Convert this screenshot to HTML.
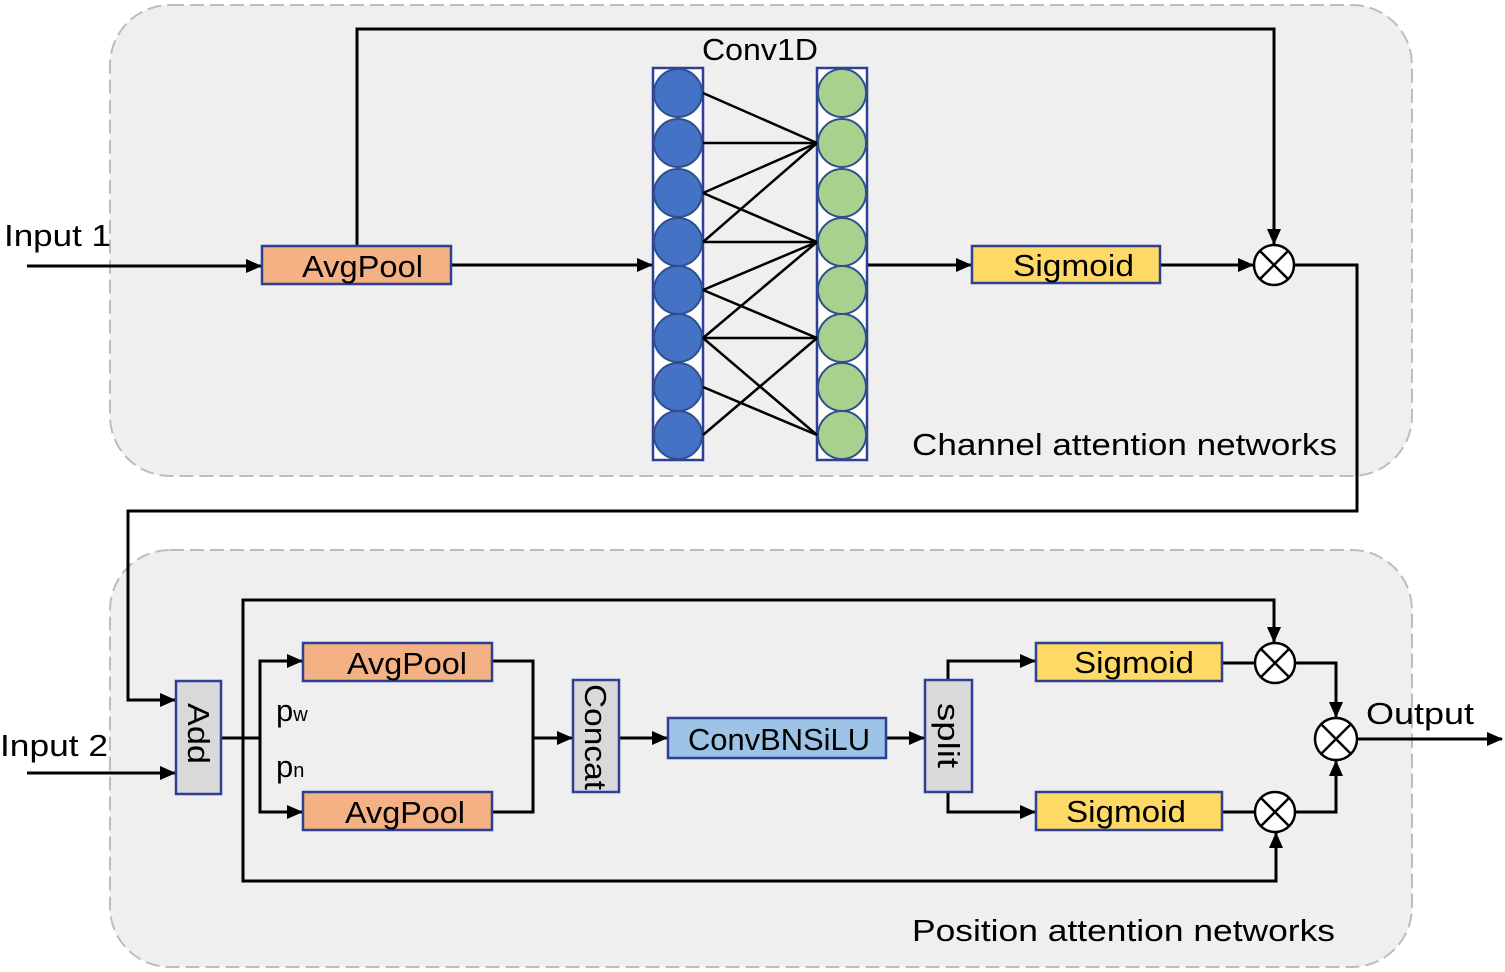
<!DOCTYPE html>
<html><head><meta charset="utf-8"><style>
html,body{margin:0;padding:0;background:#fff;}
svg{display:block;font-family:"Liberation Sans",sans-serif;}
</style></head><body>
<svg width="1505" height="972" viewBox="0 0 1505 972" xmlns="http://www.w3.org/2000/svg">
<defs>
<marker id="a" markerWidth="16" markerHeight="14" refX="15" refY="7" orient="auto" markerUnits="userSpaceOnUse" viewBox="0 0 16 14">
<path d="M0,0 L16,7 L0,14 z" fill="#000"/></marker>
</defs>
<rect x="110" y="5" width="1302" height="471" rx="60" fill="#efefef" stroke="#bdbdbd" stroke-width="2" stroke-dasharray="14,6"/>
<rect x="110" y="550" width="1302" height="417" rx="60" fill="#efefef" stroke="#bdbdbd" stroke-width="2" stroke-dasharray="14,6"/>
<g stroke="#000" stroke-width="3" fill="none">
<line x1="27" y1="266" x2="261" y2="266" marker-end="url(#a)"/>
<line x1="451" y1="265" x2="652" y2="265" marker-end="url(#a)"/>
<polyline points="357,246 357,29 1274,29 1274,244" marker-end="url(#a)"/>
<line x1="867" y1="265" x2="971" y2="265" marker-end="url(#a)"/>
<line x1="1160" y1="265" x2="1253" y2="265" marker-end="url(#a)"/>
<polyline points="1295,265 1357,265 1357,511 128,511 128,700 175,700" marker-end="url(#a)"/>
<line x1="27" y1="773" x2="175" y2="773" marker-end="url(#a)"/>
<line x1="221" y1="738" x2="260" y2="738"/>
<polyline points="301,661 260,661 260,812 301,812" />
<line x1="260" y1="661" x2="302" y2="661" marker-end="url(#a)"/>
<line x1="260" y1="812" x2="302" y2="812" marker-end="url(#a)"/>
<polyline points="492,661 533,661 533,812 492,812"/>
<line x1="533" y1="738" x2="572" y2="738" marker-end="url(#a)"/>
<line x1="619" y1="738" x2="667" y2="738" marker-end="url(#a)"/>
<line x1="886" y1="738" x2="924" y2="738" marker-end="url(#a)"/>
<polyline points="948,680 948,661 1035,661" marker-end="url(#a)"/>
<polyline points="948,792 948,812 1035,812" marker-end="url(#a)"/>
<line x1="1222" y1="663" x2="1254" y2="663"/>
<line x1="1222" y1="812" x2="1254" y2="812"/>
<polyline points="243,738 243,600 1274,600 1274,642" marker-end="url(#a)"/>
<polyline points="243,738 243,881 1276,881 1276,833" marker-end="url(#a)"/>
<polyline points="1296,663 1336,663 1336,717" marker-end="url(#a)"/>
<polyline points="1296,812 1336,812 1336,761" marker-end="url(#a)"/>
<line x1="1357" y1="739" x2="1502" y2="739" marker-end="url(#a)"/>
</g>
<rect x="653" y="68" width="50" height="392" fill="#fff" stroke="#2f3f96" stroke-width="2.5"/>
<rect x="817" y="68" width="50" height="392" fill="#fff" stroke="#2f3f96" stroke-width="2.5"/>
<g stroke="#2f4f8f" stroke-width="2" fill="#4472c4">
<circle cx="678" cy="93" r="24"/><circle cx="678" cy="143" r="24"/><circle cx="678" cy="193" r="24"/><circle cx="678" cy="242" r="24"/>
<circle cx="678" cy="290" r="24"/><circle cx="678" cy="338" r="24"/><circle cx="678" cy="387" r="24"/><circle cx="678" cy="435" r="24"/>
</g>
<g stroke="#2f4f8f" stroke-width="2" fill="#a9d18e">
<circle cx="842" cy="93" r="24"/><circle cx="842" cy="143" r="24"/><circle cx="842" cy="193" r="24"/><circle cx="842" cy="242" r="24"/>
<circle cx="842" cy="290" r="24"/><circle cx="842" cy="338" r="24"/><circle cx="842" cy="387" r="24"/><circle cx="842" cy="435" r="24"/>
</g>
<g stroke="#000" stroke-width="2.5">
<line x1="703" y1="93" x2="817" y2="143"/><line x1="703" y1="143" x2="817" y2="143"/>
<line x1="703" y1="193" x2="817" y2="143"/><line x1="703" y1="193" x2="817" y2="242"/>
<line x1="703" y1="242" x2="817" y2="143"/><line x1="703" y1="242" x2="817" y2="242"/>
<line x1="703" y1="290" x2="817" y2="242"/><line x1="703" y1="290" x2="817" y2="338"/>
<line x1="703" y1="338" x2="817" y2="242"/><line x1="703" y1="338" x2="817" y2="338"/>
<line x1="703" y1="338" x2="817" y2="435"/><line x1="703" y1="387" x2="817" y2="435"/>
<line x1="703" y1="435" x2="817" y2="338"/>
</g>
<g stroke="#2f3f96" stroke-width="2.5">
<rect x="262" y="246" width="189" height="38" fill="#f4b183"/>
<rect x="972" y="246" width="188" height="37" fill="#ffd966"/>
<rect x="176" y="681" width="45" height="113" fill="#d9d9d9"/>
<rect x="303" y="643" width="189" height="38" fill="#f4b183"/>
<rect x="303" y="792" width="189" height="38" fill="#f4b183"/>
<rect x="573" y="680" width="46" height="112" fill="#d9d9d9"/>
<rect x="668" y="718" width="218" height="40" fill="#9dc3e6"/>
<rect x="925" y="680" width="47" height="112" fill="#d9d9d9"/>
<rect x="1036" y="643" width="186" height="38" fill="#ffd966"/>
<rect x="1036" y="792" width="186" height="38" fill="#ffd966"/>
</g>
<g stroke="#000" stroke-width="2.5" fill="#fff">
<g><circle cx="1274" cy="265" r="20"/><path d="M1260,251L1288,279M1288,251L1260,279"/></g>
<g><circle cx="1275" cy="663" r="20"/><path d="M1261,649L1289,677M1289,649L1261,677"/></g>
<g><circle cx="1275" cy="812" r="20"/><path d="M1261,798L1289,826M1289,798L1261,826"/></g>
<g><circle cx="1336" cy="739" r="21"/><path d="M1321,724L1351,754M1351,724L1321,754"/></g>
</g>
<g font-size="31" fill="#000">
<text x="4" y="246" textLength="107" lengthAdjust="spacingAndGlyphs">Input 1</text>
<text x="0" y="756" textLength="108" lengthAdjust="spacingAndGlyphs">Input 2</text>
<text x="702" y="60" textLength="116" lengthAdjust="spacingAndGlyphs">Conv1D</text>
<text x="302" y="277" textLength="121" lengthAdjust="spacingAndGlyphs">AvgPool</text>
<text x="1013" y="276" textLength="121" lengthAdjust="spacingAndGlyphs">Sigmoid</text>
<text x="347" y="674" textLength="120" lengthAdjust="spacingAndGlyphs">AvgPool</text>
<text x="345" y="823" textLength="120" lengthAdjust="spacingAndGlyphs">AvgPool</text>
<text x="688" y="750" textLength="182" lengthAdjust="spacingAndGlyphs">ConvBNSiLU</text>
<text x="1074" y="673" textLength="120" lengthAdjust="spacingAndGlyphs">Sigmoid</text>
<text x="1066" y="822" textLength="120" lengthAdjust="spacingAndGlyphs">Sigmoid</text>
<text x="1366" y="724" textLength="108" lengthAdjust="spacingAndGlyphs">Output</text>
<text x="912" y="455" textLength="425" lengthAdjust="spacingAndGlyphs">Channel attention networks</text>
<text x="912" y="941" textLength="423" lengthAdjust="spacingAndGlyphs">Position attention networks</text>
<text x="276" y="721">p<tspan font-size="20">w</tspan></text>
<text x="276" y="777">p<tspan font-size="20">n</tspan></text>
<text transform="translate(188,703) rotate(90)" textLength="61" lengthAdjust="spacingAndGlyphs">Add</text>
<text transform="translate(585,684) rotate(90)" textLength="106" lengthAdjust="spacingAndGlyphs">Concat</text>
<text transform="translate(938,703) rotate(90)" textLength="65" lengthAdjust="spacingAndGlyphs">split</text>
</g>
</svg>
</body></html>
